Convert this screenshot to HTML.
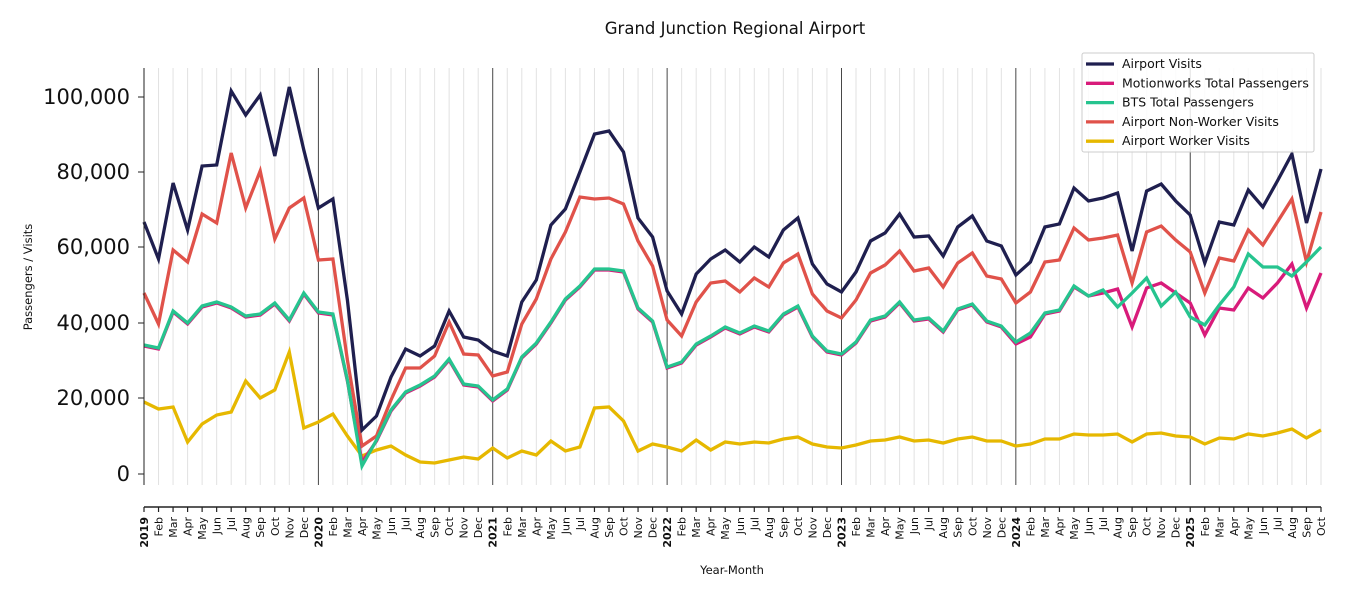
<!DOCTYPE html>
<html><head><meta charset="utf-8">
<style>
html,body{margin:0;padding:0;background:#fff;}
svg{display:block;font-family:"DejaVu Sans","Liberation Sans",sans-serif;}
</style></head>
<body>
<svg id="s" width="1350" height="600" xmlns="http://www.w3.org/2000/svg">
<rect width="1350" height="600" fill="#fff"/>
<g id="grid"></g>
<g id="lines"></g>
<g id="axes"></g>
</svg>
<script>
var NS="http://www.w3.org/2000/svg";
function el(p,t,a,txt){var e=document.createElementNS(NS,t);for(var k in a)e.setAttribute(k,a[k]);if(txt!=null)e.textContent=txt;p.appendChild(e);return e;}
var S=document.getElementById('s'),G=document.getElementById('grid'),L=document.getElementById('lines'),A=document.getElementById('axes');
function X(i){return 144+i*(1321-144)/81;}
var mon=['Jan','Feb','Mar','Apr','May','Jun','Jul','Aug','Sep','Oct','Nov','Dec'];
for(var i=0;i<82;i++){var x=X(i);
 if(i%12==0){el(G,'line',{x1:x,x2:x,y1:68,y2:485,stroke:'#333','stroke-width':0.9});}
 else el(G,'line',{x1:x,x2:x,y1:68,y2:485,stroke:'#e2e2e2','stroke-width':1});
 el(A,'line',{x1:x,x2:x,y1:507,y2:512,stroke:'#222','stroke-width':1.2});
 var yr=i%12==0;
 el(A,'text',{x:0,y:0,transform:'translate('+(x+4)+',517) rotate(-90)','text-anchor':'end','font-size':'11','font-weight':yr?'bold':'normal',fill:'#111'},yr?String(2019+i/12):mon[i%12]);
}
el(A,'line',{x1:144,x2:1321,y1:507,y2:507,stroke:'#222','stroke-width':1.5});
el(A,'line',{x1:144,x2:144,y1:68,y2:485,stroke:'#222','stroke-width':1});
var yt=[[474,'0'],[398,'20,000'],[323,'40,000'],[247,'60,000'],[172,'80,000'],[97,'100,000']];
yt.forEach(function(t){el(A,'line',{x1:138,x2:144,y1:t[0],y2:t[0],stroke:'#222','stroke-width':1});
 el(A,'text',{x:130,y:t[0]+7,'text-anchor':'end','font-size':'21',fill:'#111'},t[1]);});
el(A,'text',{x:735,y:34,'text-anchor':'middle','font-size':'16.5',fill:'#111'},'Grand Junction Regional Airport');
el(A,'text',{x:732,y:574,'text-anchor':'middle','font-size':'11.5',fill:'#111'},'Year-Month');
el(A,'text',{x:0,y:0,transform:'translate(32,277) rotate(-90)','text-anchor':'middle','font-size':'11.5',fill:'#111'},'Passengers / Visits');

var visits=[222,259,183,230,166,165,91,115,95,156,87,150,208,199,300,430,416,377,349,356,346,311,337,340,351,356,302,280,225,209,172,134,131,152,218,237,291,314,274,259,250,262,247,257,230,218,264,284,292,272,241,233,214,237,236,256,227,216,241,246,275,262,227,224,188,201,198,193,251,191,184,201,215,263,222,225,190,207,181,154,223,169];
var nonw=[293,324,250,262,214,223,153,208,171,239,208,198,260,259,360,446,436,400,368,368,356,322,354,355,376,372,324,299,259,232,197,199,198,204,241,266,320,336,302,283,281,292,278,287,263,254,294,311,318,300,273,265,251,271,268,287,263,253,276,279,303,292,262,260,228,240,238,235,283,232,226,240,252,293,258,261,230,245,222,199,262,212];
var bts=[345,348,311,323,306,302,307,316,314,303,320,293,312,314,380,466,440,410,392,385,376,359,384,386,400,389,357,343,322,299,286,269,269,271,308,321,367,362,344,336,327,333,326,331,314,306,336,351,354,342,320,316,302,320,318,331,309,304,321,326,342,333,313,310,286,296,290,307,293,278,306,292,317,325,305,287,254,267,267,276,262,247];
var mw=bts.slice(0,60).map(function(v,i){return v+(i==15?-4:1);});
mw=mw.concat([344,337,314,311,287,296,293,289,327,288,283,293,303,335,308,310,288,298,283,264,308,273]);
var work=[402,409,407,442,424,415,412,381,398,390,352,428,422,414,436,456,450,446,455,462,463,460,457,459,448,458,451,455,441,451,447,408,407,421,451,444,447,451,440,450,442,444,442,443,439,437,444,447,448,445,441,440,437,441,440,443,439,437,441,441,446,444,439,439,434,435,435,434,442,434,433,436,437,444,438,439,434,436,433,429,438,430];
function pl(d,c){el(L,'polyline',{points:d.map(function(v,i){return X(i).toFixed(1)+','+v;}).join(' '),fill:'none',stroke:c,'stroke-width':3.3,'stroke-linejoin':'miter','stroke-miterlimit':4});}
pl(work,'#e6b800');pl(nonw,'#e0524a');pl(mw,'#d81b7a');pl(bts,'#26c48f');pl(visits,'#1f1f4f');

var lg=el(A,'g',{});
el(lg,'rect',{x:1082,y:53,width:232,height:99,rx:2,fill:'#fff','fill-opacity':0.85,stroke:'#cccccc','stroke-width':1});
var items=[['Airport Visits','#1f1f4f'],['Motionworks Total Passengers','#d81b7a'],['BTS Total Passengers','#26c48f'],['Airport Non-Worker Visits','#e0524a'],['Airport Worker Visits','#e6b800']];
items.forEach(function(it,k){var y=64+k*19.3;
 el(lg,'line',{x1:1086,x2:1114,y1:y,y2:y,stroke:it[1],'stroke-width':3.3});
 el(lg,'text',{x:1122,y:y+4,'font-size':'12.5',fill:'#111'},it[0]);});
</script>
</body></html>
